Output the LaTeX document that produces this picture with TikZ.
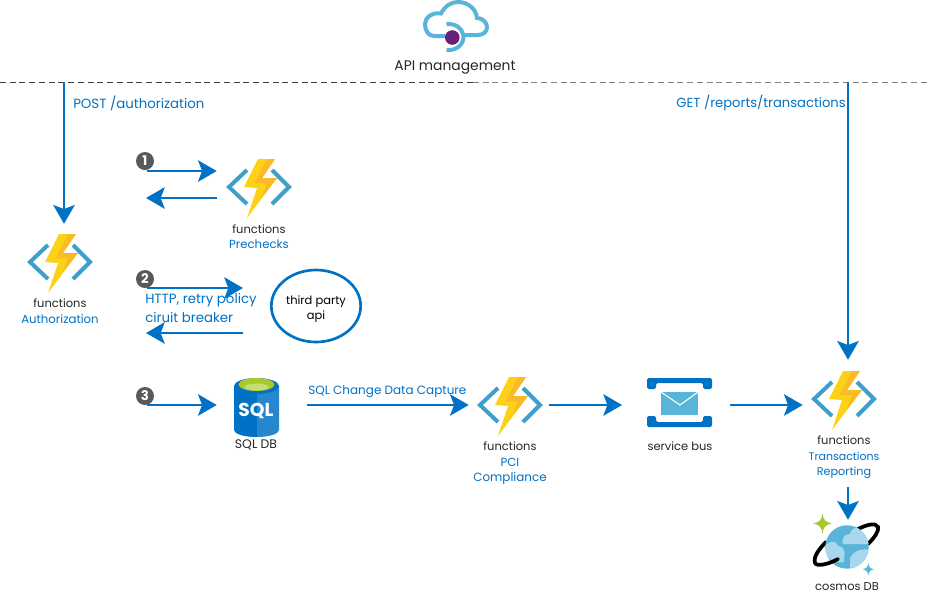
\documentclass[tikz,border=0pt]{standalone}
\usepackage{fontspec}
\setmainfont{Poppins}
\usetikzlibrary{arrows.meta,calc,shapes.geometric}
\definecolor{azblue}{HTML}{0072C6}
\definecolor{skyb}{HTML}{59B4D9}
\definecolor{chev}{HTML}{3F9FCB}
\definecolor{boltA}{HTML}{FCD116}
\definecolor{boltB}{HTML}{F9B928}
\definecolor{lightb}{HTML}{A9D8EE}
\definecolor{limeg}{HTML}{A8C92C}
\definecolor{purp}{HTML}{68217A}
\newcommand{\fs}[1]{\fontsize{#1}{#1}\selectfont}
\tikzset{
  x=0.75pt,y=-0.75pt,
  flow/.style={draw=azblue,line width=2pt,-{Stealth[length=14pt,width=16pt,inset=3pt]}},
  fnbox/.style={minimum width=48pt,minimum height=45pt,inner sep=0pt},
  blk/.style={text=black!85,font=\fs{8.6},inner sep=0pt,align=center,text height=8pt,text depth=2pt},
  blu/.style={text=azblue,font=\fs{8.8},inner sep=0pt,align=center,text height=8pt,text depth=2pt},
  blul/.style={text=azblue,font=\fs{10},inner sep=0pt,anchor=west},
  badge/.style={circle,fill=black!65,text=white,inner sep=0pt,minimum size=13.5pt,font=\fs{10}\bfseries},
  funcicon/.pic={
    \fill[boltA] (-1,-29) -- (16,-29) -- (3,-10) -- (18,-10) -- (-12,30) -- (-2,0) -- (-15,-1) -- cycle;
    \fill[boltB] (8,-29) -- (16,-29) -- (3,-10) -- (18,-10) -- (3,9) -- (8,-5) -- (-4,-5) -- cycle;
    \draw[chev,line width=3pt,line join=miter] (-12,-18) -- (-30,-1) -- (-12,16);
    \draw[chev,line width=3pt,line join=miter] (13,-18) -- (30,-1) -- (13,16);
  },
}
\begin{document}
\begin{tikzpicture}
\useasboundingbox (0,0) rectangle (928,594);
\fill[white] (0,0) rectangle (928,594);
% dashed separator
\coordinate (sepL) at (0,82);
\coordinate (sepM) at (473,82);
\coordinate (sepR) at (928,82);
\draw[black!75,line width=0.75pt,dash pattern=on 4.5pt off 2.8pt] (sepL) -- (sepM);
\draw[black!50,line width=0.75pt,dash pattern=on 4.5pt off 2.8pt] (sepM) -- (sepR);
\coordinate (postStart) at (64,82);
\coordinate (getStart) at (848,82);
% API management icon
\draw[skyb,line width=3pt,line cap=round]
  (444,36) -- (434,36) .. controls (428,36) and (425,30) .. (425,24)
  .. controls (425,17) and (433,12) .. (441,13.5)
  .. controls (445,6) and (451,2) .. (458,2)
  .. controls (468,2) and (476,9) .. (477,18)
  .. controls (483,18) and (487,23) .. (487,27)
  .. controls (487,32) and (483,35) .. (478,35) -- (466,35);
\draw[skyb,line width=3pt] (446.5,24.2) arc (-100:100:14.5 and 13);
\fill[purp] (452.3,37.5) circle (7.3);
\node[blk,font=\fs{10.4}] (apilbl) at (455,66) {API management};
% Authorization
\node[fnbox] (fnAuth) at (60,263) {};
\pic at (fnAuth) {funcicon};
\node[blk] (authA) at (60,303) {functions};
\node[blu] (authB) at (60,319) {Authorization};
% Prechecks
\node[fnbox] (fnPre) at (259,188) {};
\pic at (fnPre) {funcicon};
\node[blk] (preA) at (259,229) {functions};
\node[blu] (preB) at (259,244) {Prechecks};
% PCI
\node[fnbox] (fnPCI) at (510,406) {};
\pic at (fnPCI) {funcicon};
\node[blk] (pciA) at (510,446) {functions};
\node[blu] (pciB) at (510,462) {PCI};
\node[blu,font=\fs{8.95}] (pciC) at (510,477) {Compliance};
% Transactions
\node[fnbox] (fnTR) at (844,400) {};
\pic at (fnTR) {funcicon};
\node[blk] (trA) at (844,440) {functions};
\node[blu,font=\fs{8.25}] (trB) at (844,456) {Transactions};
\node[blu,font=\fs{8.4}] (trC) at (844,471) {Reporting};
% badges
\node[badge] (b1) at (145,161) {1};
\node[badge] (b2) at (145,279) {2};
\node[badge] (b3) at (145,396) {3};
% third party
\node[draw=azblue,line width=2pt,ellipse,minimum width=67pt,minimum height=54pt,inner sep=0pt] (tp) at (316,306) {};
\node[font=\fs{8.6},text=black,align=center,inner sep=0pt] (tpt) at (316,309) {third party\\[2pt]api};
% SQL
\node[minimum width=34.5pt,minimum height=44pt,inner sep=0pt] (sql) at (256,407) {};
\fill[azblue] (234,386) -- (234,430) arc (180:0:22.5 and 7) -- (279,386) -- cycle;
\fill[white,opacity=0.15] (257,386) -- (257,437) .. controls (268,437) and (279,434) .. (279,430) -- (279,386) -- cycle;
\fill[azblue] (256.5,386) ellipse (22.5 and 8);
\fill[limeg] (256.5,384.5) ellipse (18 and 6.5);
\fill[limeg!65!white] (256.5,387) ellipse (12 and 3.5);
\node[text=white,font=\fs{14}\bfseries,inner sep=0pt] (sqlt) at (256,411) {SQL};
\node[blk,font=\fs{9.3}] (sqllbl) at (256,444) {SQL DB};
% Service bus
\node[minimum width=49pt,minimum height=37pt,inner sep=0pt] (bus) at (680,403) {};
\fill[azblue,rounded corners=1.2pt] (647,389) -- (647,378) -- (712,378) -- (712,389) -- (703,389) -- (703,383) -- (656,383) -- (656,389) -- cycle;
\fill[azblue,rounded corners=1.2pt] (647,416) -- (647,427) -- (712,427) -- (712,416) -- (703,416) -- (703,422) -- (656,422) -- (656,416) -- cycle;
\fill[skyb] (661,392) rectangle (698,415);
\draw[white,line width=0.8pt] (661,392) -- (680,405) -- (698,392);
\node[blk,font=\fs{8.6}] (buslbl) at (680,446) {service bus};
% Cosmos
\node[minimum width=48pt,minimum height=39pt,inner sep=0pt] (cosmos) at (847,547) {};
\draw[black,line width=2.8pt,line cap=round] (858,529) .. controls (866,525) and (876,522) .. (878,527) .. controls (879,531) and (875,537) .. (868,544);
\draw[black,line width=2.8pt,line cap=round] (826,542) .. controls (819,549) and (813,557) .. (815,563);
\begin{scope}
  \fill[skyb] (847,547) circle (21.7);
  \clip (847,547) circle (21.7);
  \fill[lightb] (843,544) .. controls (841,537) and (846,534) .. (850,534) .. controls (851,527) and (862,525) .. (866,530) -- (872,544) -- cycle;
  \fill[lightb] (823,548) .. controls (828,541) and (836,539) .. (838,546) .. controls (844,546) and (846,552) .. (844,558) -- (844,562) .. controls (834,564) and (826,558) .. (823,548) -- cycle;
  \fill[lightb] (850,558) .. controls (855,550) and (862,548) .. (870,550) -- (864,566) -- (850,568) -- cycle;
\end{scope}
\draw[black,line width=2.8pt,line cap=round] (815,563) .. controls (817,567) and (829,564) .. (838,559);
\fill[limeg] (822.5,513.5) .. controls (823.5,520) and (825,522) .. (832,523.5) .. controls (825,525) and (823.5,527) .. (822.5,533.5) .. controls (821.5,527) and (820,525) .. (813,523.5) .. controls (820,522) and (821.5,520) .. (822.5,513.5) -- cycle;
\fill[skyb] (868.3,563) .. controls (869,567) and (870,568.5) .. (874,569.3) .. controls (870,570) and (869,571.5) .. (868.3,575.5) .. controls (867.6,571.5) and (866.6,570) .. (862.6,569.3) .. controls (866.6,568.5) and (867.6,567) .. (868.3,563) -- cycle;
\node[blk,font=\fs{8.6}] (coslbl) at (847,586) {cosmos DB};
% labels
\node[blul] (postl) at (73,103) {POST /authorization};
\node[blul,anchor=east,font=\fs{9.85}] (getl) at (846,103) {GET /reports/transactions};
\node[blul] (httpl) at (145,300) {HTTP, retry policy};
\node[blul] (cirl) at (145,317) {ciruit breaker};
\node[blul,font=\fs{9}] (cdc) at (308,392) {SQL Change Data Capture};
% connectors
\draw[flow] (postStart) -- ([shift={(4,-9)}]fnAuth.north);
\draw[flow] (getStart) -- ([shift={(4,-10)}]fnTR.north);
\draw[flow] ([shift={(2,10)}]b1.center) -- ([shift={(-10,-17)}]fnPre.west);
\draw[flow] ([shift={(-10,10)}]fnPre.west) -- ([shift={(1,37)}]b1.center);
\draw[flow] ([shift={(2,9)}]b2.center) -- ([shift={(-27,-18)}]tp.west);
\draw[flow] ([shift={(-27,27)}]tp.west) -- ([shift={(1,54)}]b2.center);
\draw[flow] ([shift={(2,9)}]b3.center) -- ([shift={(-16,-2)}]sql.west);
\draw[flow] ([shift={(28,-2)}]sql.east) -- ([shift={(-9,-1)}]fnPCI.west);
\draw[flow] ([shift={(7,-1)}]fnPCI.east) -- ([shift={(-25,2)}]bus.west);
\draw[flow] ([shift={(17,2)}]bus.east) -- ([shift={(-9,5)}]fnTR.west);
\draw[flow] ([shift={(4,57)}]fnTR.south) -- ([shift={(1,-1)}]cosmos.north);
\end{tikzpicture}
\end{document}
